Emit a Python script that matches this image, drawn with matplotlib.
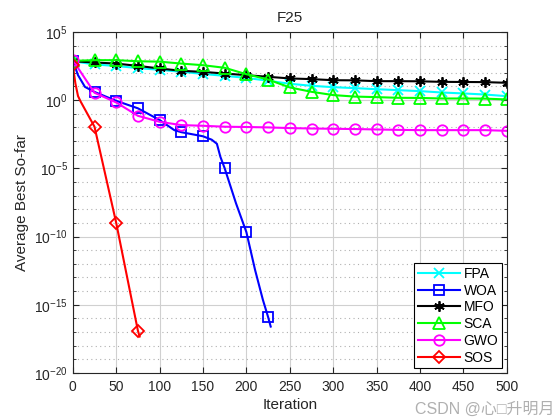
import numpy as np
import matplotlib
matplotlib.use("Agg")
import matplotlib.pyplot as plt
from matplotlib.ticker import FixedLocator, NullFormatter

plt.rcParams['font.family'] = ['Liberation Sans', 'Noto Sans CJK SC', 'DejaVu Sans']

# iterations where every curve has a marker
iters = np.arange(0, 501, 25)

# log10 of average best so-far
fpa_log = [2.85, 2.62, 2.5, 2.35, 2.22, 2.08, 1.92, 1.78, 1.63, 1.42, 1.2,
           1.05, 0.95, 0.88, 0.8, 0.73, 0.66, 0.56, 0.49, 0.41, 0.29]
mfo_log = [2.85, 2.76, 2.68, 2.51, 2.32, 2.15, 2.07, 1.95, 1.83, 1.71, 1.59,
           1.54, 1.46, 1.45, 1.39, 1.39, 1.38, 1.34, 1.33, 1.32, 1.27]
sca_log = [2.88, 2.93, 2.93, 2.85, 2.82, 2.68, 2.56, 2.37, 1.9, 1.51, 0.93,
           0.61, 0.37, 0.26, 0.22, 0.17, 0.16, 0.12, 0.12, 0.11, 0.05]
gwo_log = [2.93, 0.54, -0.17, -1.15, -1.59, -1.83, -1.88, -1.95, -1.97, -2.0, -2.05,
           -2.08, -2.1, -2.12, -2.15, -2.18, -2.2, -2.2, -2.2, -2.2, -2.25]

woa_it = [0, 6, 14, 25, 50, 75, 100, 117, 125, 150, 160, 166, 170, 175, 188,
          200, 210, 219, 225, 228]
woa_log = [2.9, 1.83, 0.97, 0.6, -0.05, -0.6, -1.46, -2.2, -2.35, -2.65, -2.9,
           -3.2, -4.15, -5.0, -7.56, -9.68, -12.45, -14.64, -15.9, -16.6]

sos_it = [0, 3, 6, 9, 25, 50, 75, 77]
sos_log = [2.56, 1.22, 0.3, -0.1, -1.95, -9.0, -16.9, -17.33]

series = [
    ("FPA", iters, fpa_log, (0, 1, 1), 'x', 7),
    ("WOA", woa_it, woa_log, (0, 0, 1), 's', 6.5),
    ("MFO", iters, mfo_log, (0, 0, 0), (6, 2, 0), 7.5),
    ("SCA", iters, sca_log, (0, 1, 0), '^', 8),
    ("GWO", iters, gwo_log, (1, 0, 1), 'o', 7.5),
    ("SOS", sos_it, sos_log, (1, 0, 0), 'D', 6.5),
]

fig = plt.figure(figsize=(5.6, 4.2), dpi=100)
ax = fig.add_axes([0.13, 0.112, 0.775, 0.812])

for name, it, lg, col, mk, ms in series:
    it = np.asarray(it)
    marks = [i for i, v in enumerate(it) if v % 25 == 0]
    ax.semilogy(it, 10.0 ** np.asarray(lg), color=col, lw=1.5, marker=mk,
                markersize=ms, markerfacecolor='none', markeredgecolor=col,
                markeredgewidth=1.3, markevery=marks, label=name)

ax.set_xlim(0, 500)
ax.set_ylim(1e-20, 1e5)
ax.xaxis.set_major_locator(FixedLocator(np.arange(0, 501, 50)))
ax.yaxis.set_major_locator(FixedLocator([1e-20, 1e-15, 1e-10, 1e-5, 1e0, 1e5]))
ax.yaxis.set_minor_locator(FixedLocator([10.0 ** k for k in range(-20, 6)]))
ax.yaxis.set_minor_formatter(NullFormatter())

ax.grid(True, which='major', color='#d0d0d0', lw=0.8, ls='-')
ax.grid(True, which='minor', axis='y', color='#b0b0b0', lw=0.8, ls=(0, (1, 3)))
ax.set_axisbelow(True)
ax.tick_params(which='both', direction='in', top=True, right=True, labelsize=10,
               colors='#262626')
ax.tick_params(which='major', length=4)
ax.tick_params(which='minor', length=2)
ax.tick_params(axis='x', pad=5)
for s in ax.spines.values():
    s.set_color('#262626')

ax.set_title("F25", fontsize=11, color='#262626', pad=7)
ax.set_xlabel("Iteration", fontsize=11, color='#262626', labelpad=3)
ax.set_ylabel("Average Best So-far", fontsize=11, color='#262626', labelpad=4)

leg = ax.legend(loc='lower right', fontsize=10, handlelength=3.0, fancybox=False,
                framealpha=1, edgecolor='black', borderpad=0.25, labelspacing=0.2,
                handletextpad=0.3, borderaxespad=0.35)
leg.get_frame().set_linewidth(0.8)

fig.text(0.99, 0.008, "CSDN @心□升明月", ha='right', va='bottom', fontsize=11.5,
         color='#b0b0b0')

fig.savefig("out.png", dpi=100)
